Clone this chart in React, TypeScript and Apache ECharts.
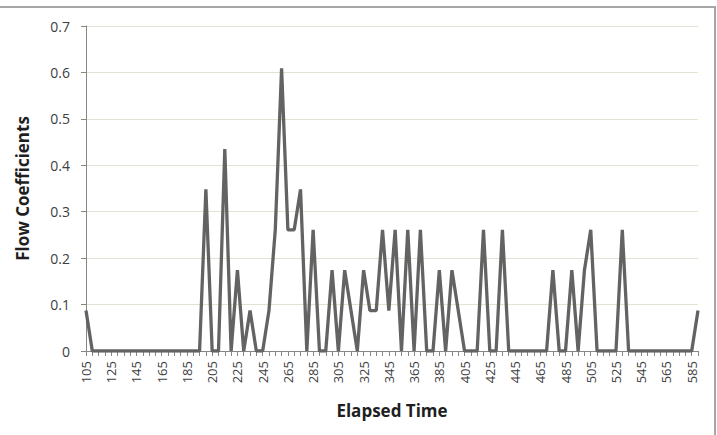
import React, { useEffect, useRef } from "react";
import * as echarts from "echarts";

const elapsedTime = [
  105, 110, 115, 120, 125, 130, 135, 140, 145, 150,
  155, 160, 165, 170, 175, 180, 185, 190, 195, 200,
  205, 210, 215, 220, 225, 230, 235, 240, 245, 250,
  255, 260, 265, 270, 275, 280, 285, 290, 295, 300,
  305, 310, 315, 320, 325, 330, 335, 340, 345, 350,
  355, 360, 365, 370, 375, 380, 385, 390, 395, 400,
  405, 410, 415, 420, 425, 430, 435, 440, 445, 450,
  455, 460, 465, 470, 475, 480, 485, 490, 495, 500,
  505, 510, 515, 520, 525, 530, 535, 540, 545, 550,
  555, 560, 565, 570, 575, 580, 585, 590,
];

const flowCoefficients = [
  0.087, 0, 0, 0, 0, 0, 0, 0, 0, 0,
  0, 0, 0, 0, 0, 0, 0, 0, 0, 0.348,
  0, 0, 0.435, 0, 0.174, 0, 0.087, 0, 0, 0.087,
  0.261, 0.609, 0.261, 0.261, 0.348, 0, 0.261, 0, 0, 0.174,
  0, 0.174, 0.087, 0, 0.174, 0.087, 0.087, 0.261, 0.087, 0.261,
  0, 0.261, 0, 0.261, 0, 0, 0.174, 0, 0.174, 0.087,
  0, 0, 0, 0.261, 0, 0, 0.261, 0, 0, 0,
  0, 0, 0, 0, 0.174, 0, 0, 0.174, 0, 0.174,
  0.261, 0, 0, 0, 0, 0.261, 0, 0, 0, 0,
  0, 0, 0, 0, 0, 0, 0, 0.087,
];

const yTicks = { min: 0, max: 0.7, interval: 0.1 };

const FONT = "'Open Sans', 'Liberation Sans', sans-serif";

export default function App() {
  const ref = useRef<HTMLDivElement>(null);
  useEffect(() => {
    if (!ref.current) return;
    const chart = echarts.init(ref.current, null, { renderer: "svg" });
    chart.setOption({
      animation: false,
      backgroundColor: "#ffffff",
      textStyle: { fontFamily: FONT },
      grid: { left: 86, right: 19, top: 26, bottom: 84 },
      graphic: [
        {
          type: "rect",
          shape: { x: -10, y: 7, width: 725, height: 440 },
          style: { fill: "none", stroke: "#a6a6a6", lineWidth: 2 },
          silent: true,
        },
      ],
      xAxis: {
        type: "category",
        data: elapsedTime.map(String),
        boundaryGap: false,
        axisLine: { lineStyle: { color: "#868686", width: 1 } },
        axisTick: { show: true, interval: 0, length: 5, lineStyle: { color: "#868686" } },
        axisLabel: {
          interval: 3,
          rotate: 90,
          fontSize: 13,
          color: "#404040",
          margin: 10,
          fontFamily: FONT,
        },
        splitLine: { show: false },
        name: "Elapsed Time",
        nameLocation: "middle",
        nameGap: 51,
        nameTextStyle: { fontSize: 17, fontWeight: "bold", color: "#1f1f1f", fontFamily: FONT },
      },
      yAxis: {
        type: "value",
        min: yTicks.min,
        max: yTicks.max,
        interval: yTicks.interval,
        axisLine: { show: true, lineStyle: { color: "#868686", width: 1 } },
        axisTick: { show: true, length: 5, lineStyle: { color: "#868686" } },
        axisLabel: { fontSize: 14, color: "#404040", margin: 16, fontFamily: FONT },
        splitLine: { show: true, lineStyle: { color: "#e2e2d2", width: 1 } },
        name: "Flow Coefficients",
        nameLocation: "middle",
        nameGap: 55,
        nameTextStyle: { fontSize: 17, fontWeight: "bold", color: "#1f1f1f", fontFamily: FONT },
      },
      series: [
        {
          type: "line",
          data: flowCoefficients,
          symbol: "none",
          lineStyle: { color: "#636363", width: 3.3 },
          z: 3,
        },
      ],
    });
    return () => chart.dispose();
  }, []);
  return (
    <div
      ref={ref}
      style={{ position: "absolute", left: 0, top: 0, width: 717, height: 435 }}
    />
  );
}
